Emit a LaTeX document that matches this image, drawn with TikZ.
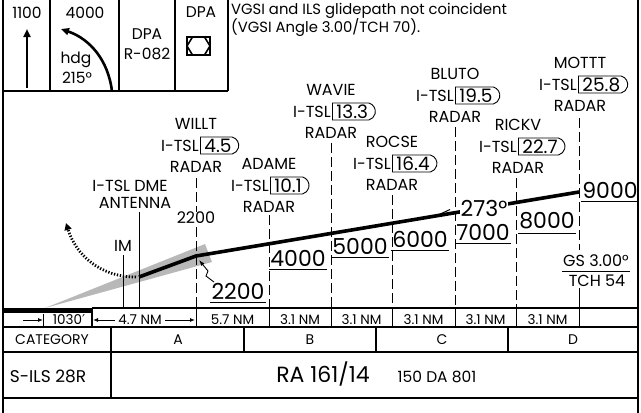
\documentclass[tikz,border=0pt]{standalone}
\usepackage{fontspec}
\setmainfont{Poppins}
\newfontfamily\symfont{DejaVu Sans}
\usetikzlibrary{shapes.misc,arrows.meta}
\tikzset{
  fr/.style={line width=1.3pt},
  border/.style={line width=2.8pt},
  thinl/.style={line width=0.9pt},
  fixdash/.style={line width=0.9pt, dash pattern=on 10pt off 4pt},
  prof/.style={line width=3.6pt},
  tb/.style={inner sep=0pt, font=\fontsize{15.5}{15.5}\selectfont},
  note/.style={inner sep=0pt, anchor=west, font=\fontsize{14.8}{14.8}\selectfont},
  wp/.style={inner sep=0pt, font=\fontsize{16}{16}\selectfont},
  numbox/.style={draw, line width=0.9pt, rounded rectangle, rounded rectangle left arc=none,
    rounded rectangle arc length=150,
    inner xsep=4pt, inner ysep=0pt, minimum height=17pt, font=\fontsize{18.5}{18.5}\selectfont},
  alt/.style={inner sep=0pt, font=\fontsize{22}{22}\selectfont},
  dist/.style={inner sep=0pt, font=\fontsize{13.5}{13.5}\selectfont},
  tab/.style={inner sep=0pt, font=\fontsize{14}{14}\selectfont},
  bigarrow/.style={line width=2.6pt, -{Triangle[length=8pt 0, width=7pt 0]}},
}
\newcommand\wpt[6]{%
  \node[wp] (#1n) at (#2,#3) {#4};
  \node[wp, anchor=east] (#1i) at (#6-1,#3+21.5) {I-TSL};
  \node[numbox, anchor=west] (#1b) at (#6,#3+21.5) {#5};
  \node[wp] (#1r) at (#2,#3+43) {RADAR};
}
\newcommand\altnum[4]{%
  \node[alt] (#1) at (#2,#3) {#4};
  \draw[thinl] ([xshift=-1pt,yshift=-3.5pt]#1.south west) -- ([xshift=1pt,yshift=-3.5pt]#1.south east);
}
\begin{document}
\begin{tikzpicture}[x=1pt,y=-1pt]
\useasboundingbox (0,0) rectangle (641,413);
\fill[white] (0,0) rectangle (641,413);

% frame
\draw[border] (3,0) -- (3,413);
\draw[border] (638,0) -- (638,413);

% top boxes
\draw[fr] (3,91) -- (228,91);
\foreach \x in {50,119,175,228} \draw[fr] (\x,0) -- (\x,91);
\node[tb] (t1100) at (27,12.5) {1100};
\node[tb] (t4000) at (85,12.5) {4000};
\coordinate (upa) at (27,88);
\coordinate (upb) at (27,29);
\draw[bigarrow] (upa) -- (upb);
\coordinate (hda) at (112,91);
\coordinate (hdb) at (61,29);
\draw[bigarrow] (hda) .. controls (108,60) and (90,39) .. (hdb);
\node[tb] (hdg) at (76,60) {hdg};
\node[tb] (h215) at (77,77.5) {215°};
\node[tb] (dpa1) at (147,34) {DPA};
\node[tb] (r082) at (147,54) {R-082};
\node[tb] (dpa2) at (201,12.5) {DPA};
\draw[line width=1.6pt] (187,37) rectangle (210,55);
\draw[line width=1.6pt] (187,46) -- (192.5,37) -- (204.5,37) -- (210,46) -- (204.5,55) -- (192.5,55) -- cycle;
\node[note] (n1) at (231,10.5) {VGSI and ILS glidepath not coincident};
\node[note] (n2) at (231,28) {(VGSI Angle 3.00/TCH 70).};

% glide slope wedge
\fill[black!28] (45,308) -- (205,244) -- (212,262) -- cycle;

% waypoints
\wpt{wi}{196}{124}{WILLT}{4.5}{200}
\wpt{ad}{269}{164}{ADAME}{10.1}{270}
\wpt{wa}{331}{90}{WAVIE}{13.3}{332}
\wpt{ro}{392}{142}{ROCSE}{16.4}{392}
\wpt{bl}{455}{74}{BLUTO}{19.5}{455}
\wpt{ri}{518}{125}{RICKV}{22.7}{518}
\wpt{mo}{580}{63}{MOTTT}{25.8}{578}

\node[wp] (dme1) at (130,186) {I-TSL DME};
\node[wp] (dme2) at (135,203) {ANTENNA};
\node[wp] (w2200) at (196,218) {2200};
\node[wp] (im) at (123,246) {IM};

% fix lines
\draw[thinl] (im.south) ++(0,3) -- (123,308);
\draw[thinl] (dme2.south) ++(4,3) -- (139,308);
\draw[fixdash] (196,178) -- (w2200.north);
\draw[fixdash] ([yshift=-3pt]w2200.south) -- (196,308);
\draw[fixdash] (269,215) -- (269,308);
\draw[fixdash] (331,143) -- (331,308);
\draw[fixdash] (392,195) -- (392,308);
\draw[fixdash] (455,127) -- (455,308);
\draw[fixdash] (516,178) -- (516,308);
\draw[fixdash] (579,118) -- (579,250);

% profile
\coordinate (pD) at (139,277);
\coordinate (pW) at (196,256);
\coordinate (pM) at (579,192);
\draw[prof] (pD) -- (pW) -- (pM);
\draw[line width=1pt] (437,215.5) -- (450,209.5);
\node[alt, fill=white, inner sep=1pt] (crs) at (484,208) {273°};

% missed approach
\draw[line width=2.8pt, dash pattern=on 1.3pt off 1.7pt, -{Triangle[length=7pt 0, width=7pt 0]}]
  (136,277) .. controls (100,277) and (76,255) .. (66,223);

% altitudes
\altnum{a22}{238}{291}{2200}
\altnum{a40}{298}{258}{4000}
\altnum{a50}{360}{246}{5000}
\altnum{a60}{420}{239}{6000}
\altnum{a70}{483}{232}{7000}
\altnum{a80}{547}{221}{8000}
\altnum{a90}{610}{190}{9000}
\draw[thinl, -{Latex[length=6pt 0, width=4pt 0]}] (214,282) -- (206,276) -- (208,271) -- (199,260);

% GS
\node[wp] (gs) at (596,261) {GS 3.00°};
\node[wp] (tch) at (597,281) {TCH 54};
\draw[thinl] (562,271) -- (630,271);
\draw[thinl] (579,288) -- (579,327);

% distance row
\fill (3,308) rectangle (92,313);
\draw[fr] (92,308) -- (638,308);
\draw[fr] (3,327) -- (638,327);
\draw[thinl, -{Latex[length=5pt 0, width=4pt 0]}] (23,320) -- (43,320);
\draw[thinl] (43,314) -- (43,327);
\node[dist] (d1030) at (69,320) {1030{\symfont′}};
\draw[fr] (92,308) -- (92,327);
\node[dist] (d47) at (140,320) {4.7 NM};
\draw[thinl, -{Latex[length=5pt 0, width=4pt 0]}] ([xshift=-3pt]d47.west) -- (93,320);
\draw[thinl, -{Latex[length=5pt 0, width=4pt 0]}] ([xshift=3pt]d47.east) -- (195,320);
\foreach \x in {196,269,331,392,455,516} \draw[thinl] (\x,308) -- (\x,327);
\node[dist] (d57) at (232.5,320) {5.7 NM};
\node[dist] (d31a) at (300,320) {3.1 NM};
\node[dist] (d31b) at (361.5,320) {3.1 NM};
\node[dist] (d31c) at (423.5,320) {3.1 NM};
\node[dist] (d31d) at (485.5,320) {3.1 NM};
\node[dist] (d31e) at (547.5,320) {3.1 NM};

% table
\draw[fr] (3,352) -- (638,352);
\draw[line width=2pt] (3,398) -- (638,398);
\draw[fr] (111,327) -- (111,398);
\foreach \x in {244,376,508} \draw[fr] (\x,327) -- (\x,352);
\node[tab] (cat) at (52,340) {CATEGORY};
\node[tab] (ca) at (178,340) {A};
\node[tab] (cb) at (310,340) {B};
\node[tab] (cc) at (442,340) {C};
\node[tab] (cd) at (573,340) {D};
\node[inner sep=0pt, anchor=base, font=\fontsize{17}{17}\selectfont] (sils) at (48,382) {S-ILS 28R};
\node[inner sep=0pt, anchor=base, font=\fontsize{22}{22}\selectfont] (ra) at (323,382) {RA 161/14};
\node[inner sep=0pt, anchor=base, font=\fontsize{15.5}{15.5}\selectfont] (da) at (437,382) {150 DA 801};
\end{tikzpicture}
\end{document}
